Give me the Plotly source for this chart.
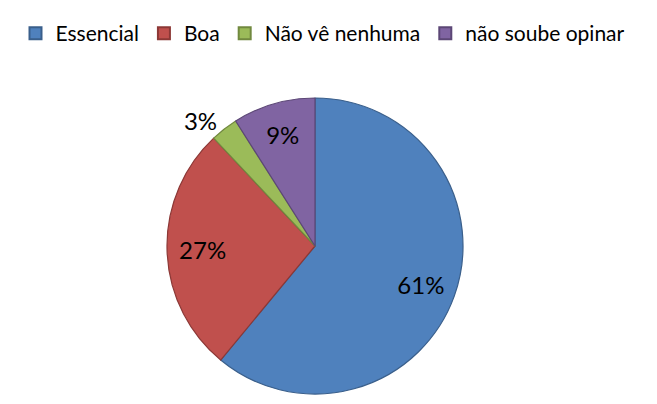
import plotly.graph_objects as go

labels = ["Essencial", "Boa", "Não vê nenhuma", "não soube opinar"]
values = [61, 27, 3, 9]
text_labels = ["61%", "27%", "3%", "9%"]
colors = ["#4F81BD", "#C0504D", "#9BBB59", "#8064A2"]
line_colors = ["#3A5F8B", "#8C3836", "#71893F", "#5C4776"]
text_positions = ["inside", "inside", "outside", "inside"]

# the page body adds an 8px margin, so the figure is drawn 8px smaller
OFF = 8
W, H = 657 - 2 * OFF, 404 - 2 * OFF
cx, cy, r = 315 - OFF, 246 - OFF, 148
dom = dict(x=[(cx - r) / W, (cx + r) / W], y=[1 - (cy + r) / H, 1 - (cy - r) / H])
FONT = "Lato, Carlito, sans-serif"

fig = go.Figure()
fig.add_trace(go.Pie(
    labels=labels,
    values=values,
    textinfo="none",
    marker=dict(colors=colors, line=dict(color=line_colors, width=1.2)),
    sort=False,
    direction="clockwise",
    rotation=0,
    domain=dom,
    hoverinfo="label+percent",
))
# transparent ring used only to place the data labels further out
fig.add_trace(go.Pie(
    labels=labels,
    values=values,
    text=text_labels,
    textinfo="text",
    textposition=text_positions,
    insidetextorientation="horizontal",
    textfont=dict(family=FONT, size=24, color="#000000"),
    marker=dict(colors=["rgba(0,0,0,0)"] * 4, line=dict(width=0)),
    hole=0.52,
    sort=False,
    direction="clockwise",
    rotation=0,
    domain=dom,
    showlegend=False,
    hoverinfo="skip",
))

fig.update_layout(
    width=W, height=H,
    margin=dict(l=0, r=0, t=0, b=0, autoexpand=False),
    paper_bgcolor="white",
    plot_bgcolor="white",
    showlegend=True,
    legend=dict(
        orientation="h",
        x=(323 - OFF) / W, xanchor="center",
        y=1 - 5 / H, yanchor="top",
        font=dict(family=FONT, size=21, color="#000000"),
        itemsizing="constant",
        traceorder="normal",
    ),
)

fig.write_html("out.html")
